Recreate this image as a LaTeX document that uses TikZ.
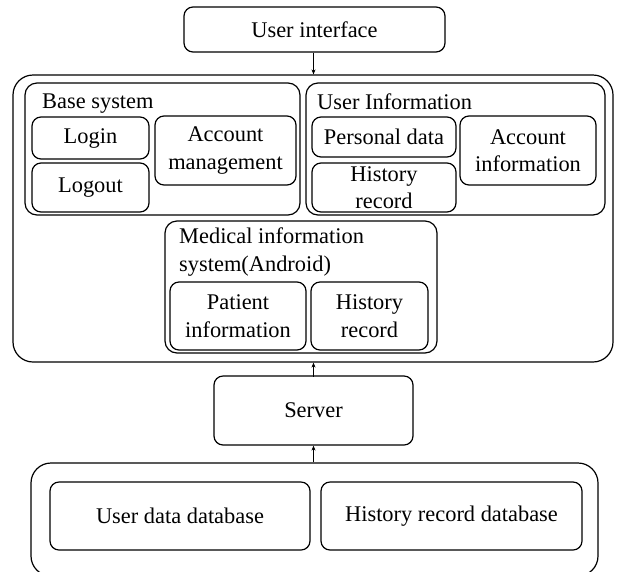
\documentclass[tikz,border=0pt]{standalone}
\usepackage{fontspec}
\setmainfont{Liberation Serif}
\usepackage{tikz}
\usetikzlibrary{arrows.meta}
\usetikzlibrary{positioning}

\tikzset{
    box/.style={draw, line width=1.2pt, rounded corners=9pt, align=center, inner sep=1pt},
    group/.style={draw, line width=1.2pt, rounded corners=12pt, inner sep=0pt},
    frame/.style={draw, line width=1.2pt, rounded corners=20pt, inner sep=0pt},
    title/.style={anchor=base west, inner sep=0pt, align=left},
    link/.style={-{Stealth[length=5pt,width=4pt]}, line width=0.9pt}
}

\begin{document}
\begin{tikzpicture}[x=1pt, y=-1pt, font=\fontsize{22.4}{27.5}\selectfont]
    \path[use as bounding box, clip] (0,0) rectangle (617,571);
    \node [box,minimum width=261pt,minimum height=45pt] (ui) at (314.5,29.5) {User interface};
    \node [frame,minimum width=600pt,minimum height=287pt] (app) at (313,218.5) {};
    % base system
    \node [group,minimum width=275pt,minimum height=132pt] (base) at (162.5,149) {};
    \node [title] (basetitle) at (42,108.5) {Base system};
    \node [box,minimum width=117pt,minimum height=42pt] (login) at (90.5,138) {Login};
    \node [box,minimum width=117pt,minimum height=49pt] (logout) at (90.5,187.5) {Logout};
    \node [box,minimum width=141pt,minimum height=69pt] (accmgmt) at (225.5,150.5) {Account\\management};
    % user information
    \node [group,minimum width=299pt,minimum height=132pt] (uinfo) at (455.5,149) {};
    \node [title] (uinfotitle) at (317,109) {User Information};
    \node [box,minimum width=144pt,minimum height=40pt] (pdata) at (384,137) {Personal data};
    \node [box,minimum width=144pt,minimum height=49pt] (hist1) at (384,187.5) {History\\record};
    \node [box,minimum width=136pt,minimum height=69pt] (accinfo) at (528,150.5) {Account\\information};
    % medical information system
    \node [group,minimum width=272pt,minimum height=132pt] (med) at (301,287) {};
    \node [title] (medtitle) at (179,271) {Medical information\\system(Android)};
    \node [box,minimum width=136pt,minimum height=68pt] (patient) at (238,316) {Patient\\information};
    \node [box,minimum width=117pt,minimum height=68pt] (hist2) at (369.5,316) {History\\record};
    % server and databases
    \node [box,minimum width=199pt,minimum height=69pt] (server) at (313.5,410.5) {Server};
    \node [frame,minimum width=567pt,minimum height=113pt] (db) at (314.5,519.5) {};
    \node [box,minimum width=260pt,minimum height=68pt] (udb) at (180,516) {User data database};
    \node [box,minimum width=261pt,minimum height=68pt] (hdb) at (451.5,516) {History record database};
    \draw [link] (ui.south -| server) -- (app.north -| server);
    \draw [link] (app.south -| server) ++(0,14) -- (app.south -| server);
    \draw [link] (db.north -| server) -- (server.south);
\end{tikzpicture}
\end{document}
